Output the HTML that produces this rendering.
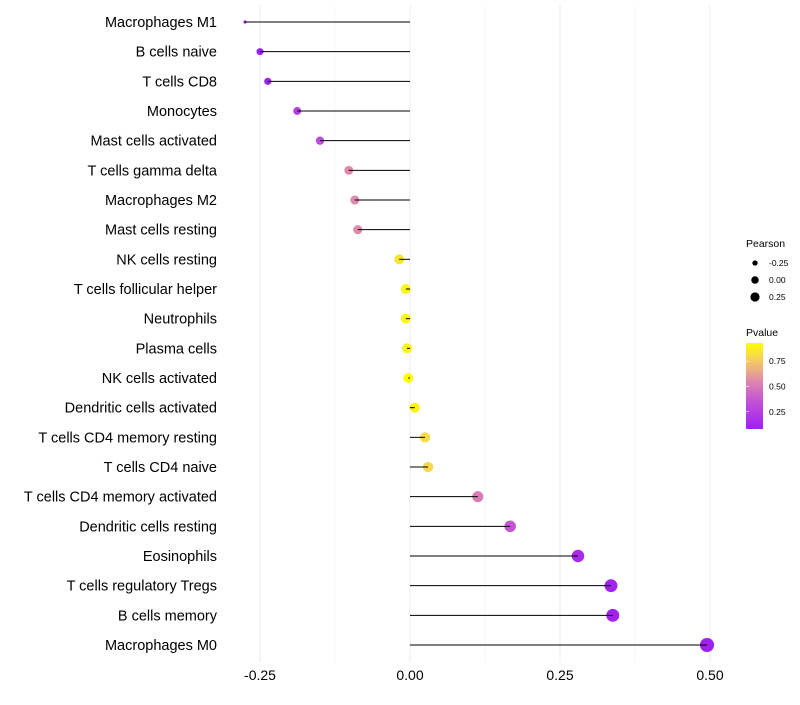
<!DOCTYPE html>
<html><head><meta charset="utf-8"><style>
body{margin:0;background:#fff;font-family:"Liberation Sans",sans-serif;}
</style></head><body>
<svg id="chart" width="800" height="700" xmlns="http://www.w3.org/2000/svg"></svg>
<script>
const categories=["Macrophages M1","B cells naive","T cells CD8","Monocytes","Mast cells activated","T cells gamma delta","Macrophages M2","Mast cells resting","NK cells resting","T cells follicular helper","Neutrophils","Plasma cells","NK cells activated","Dendritic cells activated","T cells CD4 memory resting","T cells CD4 naive","T cells CD4 memory activated","Dendritic cells resting","Eosinophils","T cells regulatory  Tregs ","B cells memory","Macrophages M0"];
const pearson=[-0.275,-0.25,-0.237,-0.188,-0.15,-0.102,-0.092,-0.087,-0.018,-0.007,-0.007,-0.005,-0.003,0.008,0.025,0.03,0.113,0.167,0.28,0.335,0.338,0.495];
const pvalue=[0.05,0.06,0.07,0.22,0.3,0.55,0.55,0.55,0.85,0.92,0.92,0.92,0.95,0.9,0.82,0.8,0.5,0.35,0.12,0.07,0.07,0.05];
const xTicks=[-0.25,0,0.25,0.5];
const xTickLabels=["-0.25","0.00","0.25","0.50"];
const xMinor=[-0.125,0.125,0.375];
const sizeLegend=[-0.25,0,0.25];
const colorTicks=[0.25,0.5,0.75];
const pMin=0.05,pMax=0.95;

const svg=document.getElementById('chart');
const NS="http://www.w3.org/2000/svg";
const x=v=>410+v*600;
const y=i=>22+i*(623/21);
const r=v=>v<-0.26?1.6:Math.sqrt(Math.max(5,25+50*v));
const stops=[[0,[160,32,240]],[0.3,[192,78,218]],[0.55,[222,135,175]],[0.8,[246,205,95]],[1,[255,255,0]]];
function col(p){
  let t=Math.max(0,Math.min(1,(p-pMin)/(pMax-pMin)));
  for(let k=0;k<stops.length-1;k++){const [o1,a]=stops[k],[o2,b]=stops[k+1];
    if(t<=o2){const u=(t-o1)/(o2-o1);return `rgb(${a.map((c,j)=>Math.round(c+(b[j]-c)*u)).join(',')})`;}}
  return 'rgb(255,255,0)';
}
function mk(tag,attrs,txt){const e=document.createElementNS(NS,tag);for(const k in attrs)e.setAttribute(k,attrs[k]);if(txt!==undefined)e.textContent=txt;svg.appendChild(e);return e;}

xMinor.forEach(v=>{const e=mk('line',{x1:x(v),x2:x(v),y1:5,y2:662,stroke:'#f2f2f2','stroke-width':0.6});

});
xTicks.forEach((v,i)=>{const e=mk('line',{x1:x(v),x2:x(v),y1:5,y2:662,stroke:'#ebebeb','stroke-width':1});


const t=mk('text',{x:x(v),y:680,'text-anchor':'middle','font-size':14,fill:'#000'},xTickLabels[i]);

});
categories.forEach((c,i)=>{
  const t=mk('text',{x:217,y:y(i)+5,'text-anchor':'end','font-size':14.5,fill:'#000'},c);
  
  
  const p=mk('circle',{cx:x(pearson[i]),cy:y(i),r:r(pearson[i]),fill:col(pvalue[i])});
  
  
  const l=mk('line',{x1:x(0),x2:x(pearson[i]),y1:y(i),y2:y(i),stroke:'#000','stroke-width':1});
  
  
});
const lt=mk('text',{x:746,y:247,'font-size':10.5},'Pearson');


sizeLegend.forEach((v,i)=>{const cy=263+i*17;
  const c=mk('circle',{cx:755,cy:cy,r:r(v)*0.75,fill:'#000'});
  
  
  const t=mk('text',{x:769,y:cy+3,'font-size':8.5},v.toFixed(2));
  
  });
const ct=mk('text',{x:746,y:336,'font-size':10.5},'Pvalue');


const defs=mk('defs',{});
const g=document.createElementNS(NS,'linearGradient');g.setAttribute('id','grad');g.setAttribute('x1','0');g.setAttribute('y1','1');g.setAttribute('x2','0');g.setAttribute('y2','0');
[0,0.15,0.3,0.45,0.55,0.7,0.8,0.9,1].forEach(o=>{const s=document.createElementNS(NS,'stop');s.setAttribute('offset',o);s.setAttribute('stop-color',col(pMin+o*(pMax-pMin)));g.appendChild(s);});
defs.appendChild(g);
const cb=mk('rect',{x:746,y:343,width:17,height:86,fill:'url(#grad)'});


const cy=p=>432-(p-0.05)/(0.85)*86;
colorTicks.forEach(p=>{
  const t=mk('text',{x:769,y:cy(p)+3,'font-size':8.5},p.toFixed(2));
  
  
  const k=mk('line',{x1:746,x2:749,y1:cy(p),y2:cy(p),stroke:'#fff','stroke-width':0.6});
  
  
});
</script>
</body></html>
